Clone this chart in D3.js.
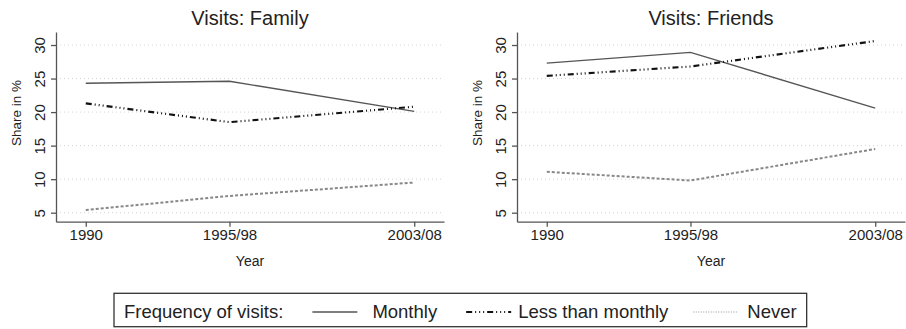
<!DOCTYPE html>
<meta charset="utf-8">
<style>
body { margin: 0; background: #fff; }
svg { font-family: "Liberation Sans", Arial, sans-serif; }
.axis path, .axis line { stroke: #555; stroke-width: 1.3; }
.axis text { fill: #222; }
.grid line { stroke: #d4d4d4; stroke-dasharray: 1,3; }
</style>
<body>
<script src="https://cdn.jsdelivr.net/npm/d3@7"></script>
<script>
// data
var years = [1990, 1997, 2006];
var yearLabels = ["1990", "1995/98", "2003/08"];
var yTicks = [5, 10, 15, 20, 25, 30];

var familyMonthly = [24.3, 24.6, 20.1];
var familyLess    = [21.3, 18.5, 20.8];
var familyNever   = [5.4, 7.5, 9.5];

var friendsMonthly = [27.3, 28.9, 20.6];
var friendsLess    = [25.4, 26.8, 30.6];
var friendsNever   = [11.1, 9.8, 14.5];

var seriesNames = ["Monthly", "Less than monthly", "Never"];
var styles = [
  {stroke: "#555", width: 1.3, dash: null},
  {stroke: "#111", width: 2.2, dash: "6,3,1,3,1,3,1,3"},
  {stroke: "#888", width: 2, dash: "3,2"}
];

var W = 906, H = 329;
var svg = d3.select("body").append("svg")
    .attr("width", W)
    .attr("height", H);

function panel(left, right, title, data) {
  var x = d3.scaleLinear().domain([1988.55, 2007.45]).range([left, right]);
  var y = d3.scaleLinear().domain([3.66, 31.94]).range([221.7, 32]);

  var g = svg.append("g");

  // grid
  g.append("g").attr("class", "grid")
    .selectAll("line").data(yTicks).enter().append("line")
      .attr("x1", left).attr("x2", right)
      .attr("y1", function(d) { return y(d); })
      .attr("y2", function(d) { return y(d); });

  // lines
  data.forEach(function(vals, i) {
    var line = d3.line()
      .x(function(d, j) { return x(years[j]); })
      .y(function(d) { return y(d); });
    g.append("path")
      .attr("d", line(vals))
      .attr("fill", "none")
      .attr("stroke", styles[i].stroke)
      .attr("stroke-width", styles[i].width)
      .attr("stroke-dasharray", styles[i].dash);
  });

  // y axis, labels turned on their side
  var ya = g.append("g")
      .attr("class", "axis")
      .attr("transform", "translate(" + left + ",0)")
      .call(d3.axisLeft(y).tickValues(yTicks).tickSize(5).tickSizeOuter(0));
  ya.selectAll("text")
      .attr("font-size", 15)
      .attr("x", -11)
      .attr("y", 0)
      .attr("dy", 0)
      .attr("transform", "rotate(-90,-11,0)")
      .attr("text-anchor", "middle");

  // x axis
  var xa = g.append("g")
      .attr("class", "axis")
      .attr("transform", "translate(0,221.7)")
      .call(d3.axisBottom(x).tickValues(years)
        .tickFormat(function(d, i) { return yearLabels[i]; })
        .tickSize(5).tickSizeOuter(0));
  xa.selectAll("text")
      .attr("font-size", 15)
      .attr("y", 8);

  // titles
  g.append("text")
      .attr("x", (left + right) / 2)
      .attr("y", 25)
      .attr("text-anchor", "middle")
      .attr("font-size", 20)
      .attr("fill", "#222")
      .text(title);

  g.append("text")
      .attr("x", (left + right) / 2)
      .attr("y", 266)
      .attr("text-anchor", "middle")
      .attr("font-size", 14)
      .attr("fill", "#222")
      .text("Year");

  g.append("text")
      .attr("transform", "translate(" + (left - 35) + ",113) rotate(-90)")
      .attr("text-anchor", "middle")
      .attr("font-size", 13.5)
      .attr("fill", "#222")
      .text("Share in %");
}

panel(56, 444, "Visits: Family", [familyMonthly, familyLess, familyNever]);
panel(517, 905, "Visits: Friends", [friendsMonthly, friendsLess, friendsNever]);

// legend
var leg = svg.append("g");
var box = leg.append("rect")
    .attr("y", 293.3)
    .attr("height", 33.4)
    .attr("fill", "none")
    .attr("stroke", "#333")
    .attr("stroke-width", 1.3);

var gapBefore = [29, 29, 25];   // text -> key line
var gapAfter = [15, 7, 9];      // key line -> text
var lx = 124, ly = 318, fs = 18.5;
var head = leg.append("text")
    .attr("x", lx).attr("y", ly)
    .attr("font-size", fs).attr("fill", "#222")
    .text("Frequency of visits:");
lx += head.node().getComputedTextLength();

seriesNames.forEach(function(name, i) {
  lx += gapBefore[i];
  var legendDash = i == 2 ? "1,1.5" : styles[i].dash;
  leg.append("line")
      .attr("x1", lx).attr("x2", lx + 45)
      .attr("y1", ly - 6).attr("y2", ly - 6)
      .attr("stroke", i == 2 ? "#999" : styles[i].stroke)
      .attr("stroke-width", i == 2 ? 1.2 : styles[i].width)
      .attr("stroke-dasharray", legendDash);
  lx += 45 + gapAfter[i];
  var t = leg.append("text")
      .attr("x", lx).attr("y", ly)
      .attr("font-size", fs).attr("fill", "#222")
      .text(name);
  lx += t.node().getComputedTextLength();
});

box.attr("x", 114).attr("width", lx + 10 - 114);
</script>
</body>
